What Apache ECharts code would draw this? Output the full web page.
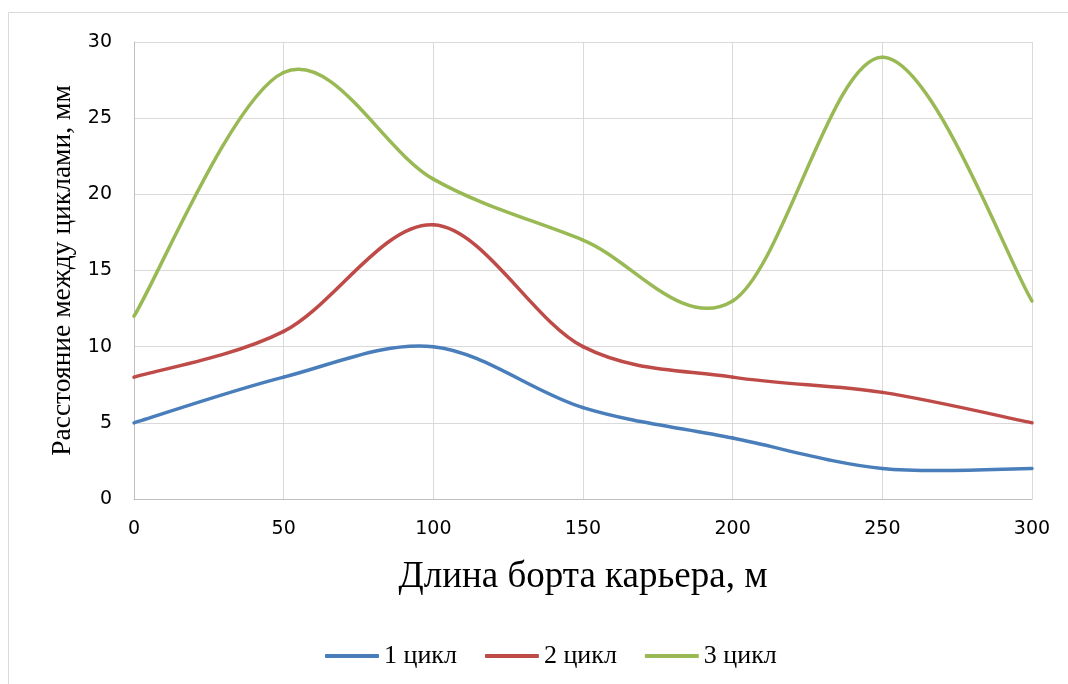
<!DOCTYPE html>
<html>
<head>
<meta charset="utf-8">
<script src="https://cdn.jsdelivr.net/npm/echarts@6/dist/echarts.min.js"></script>
<style>
html,body{margin:0;padding:0;background:#fff;}
#chart{width:1068px;height:684px;}
</style>
</head>
<body>
<div id="chart"></div>
<script>
// Длина борта карьера, м
const xValues = [0, 50, 100, 150, 200, 250, 300];
// Расстояние между циклами, мм
const cycle1 = [5, 8, 10, 6, 4, 2, 2];
const cycle2 = [8, 11, 18, 10, 8, 7, 5];
const cycle3 = [12, 28, 21, 17, 13, 29, 13];
const seriesNames = ['1 цикл', '2 цикл', '3 цикл'];
const seriesColors = ['#4a7ebb', '#be4b48', '#98b954'];

const pairs = vals => xValues.map((x, i) => [x, vals[i]]);
const serif = '"Liberation Serif", "Times New Roman", serif';
const sans = '"DejaVu Sans", sans-serif';

// Smoothed line: one cubic Bézier per segment, control points from the
// neighbouring points (Catmull-Rom style, tension 1/6), in pixel space.
function smoothSegment(vals, color) {
  return function (params, api) {
    const i = params.dataIndex;
    const n = vals.length;
    if (i >= n - 1) return null;
    const pt = k => api.coord([xValues[k], vals[k]]);
    const p0 = pt(Math.max(i - 1, 0));
    const p1 = pt(i);
    const p2 = pt(i + 1);
    const p3 = pt(Math.min(i + 2, n - 1));
    return {
      type: 'bezierCurve',
      shape: {
        x1: p1[0], y1: p1[1],
        x2: p2[0], y2: p2[1],
        cpx1: p1[0] + (p2[0] - p0[0]) / 6,
        cpy1: p1[1] + (p2[1] - p0[1]) / 6,
        cpx2: p2[0] - (p3[0] - p1[0]) / 6,
        cpy2: p2[1] - (p3[1] - p1[1]) / 6
      },
      style: { stroke: color, lineWidth: 3.5, fill: null, lineCap: 'round' },
      silent: true
    };
  };
}

const chart = echarts.init(document.getElementById('chart'));
chart.setOption({
  animation: false,
  backgroundColor: '#fff',
  graphic: [{
    type: 'rect',
    shape: { x: 8.5, y: 12.5, width: 1100, height: 700 },
    style: { fill: 'none', stroke: '#d9d9d9', lineWidth: 1 },
    silent: true
  }],
  grid: { left: 134, right: 36, top: 42, bottom: 185 },
  xAxis: {
    type: 'value', min: 0, max: 300, interval: 50,
    name: 'Длина борта карьера, м',
    nameLocation: 'middle', nameGap: 60,
    nameTextStyle: { fontFamily: serif, fontSize: 37, color: '#000' },
    axisLine: { show: true, lineStyle: { color: '#bfbfbf', width: 1 } },
    axisTick: { show: false },
    axisLabel: { fontFamily: sans, fontSize: 19, color: '#000', margin: 21 },
    splitLine: { show: true, lineStyle: { color: '#d9d9d9', width: 1 } }
  },
  yAxis: {
    type: 'value', min: 0, max: 30, interval: 5,
    name: 'Расстояние между циклами, мм',
    nameLocation: 'middle', nameGap: 56,
    nameTextStyle: { fontFamily: serif, fontSize: 27.5, color: '#000' },
    axisLine: { show: true, lineStyle: { color: '#bfbfbf', width: 1 } },
    axisTick: { show: false },
    axisLabel: { fontFamily: sans, fontSize: 19, color: '#000', margin: 22 },
    splitLine: { show: true, lineStyle: { color: '#d9d9d9', width: 1 } }
  },
  legend: {
    bottom: 10, left: 320,
    itemWidth: 54, itemHeight: 4, itemGap: 28,
    icon: 'roundRect',
    textStyle: { fontFamily: serif, fontSize: 26, color: '#000' },
    data: seriesNames
  },
  series: [cycle1, cycle2, cycle3].map((vals, i) => ({
    name: seriesNames[i],
    type: 'custom',
    coordinateSystem: 'cartesian2d',
    data: pairs(vals),
    encode: { x: 0, y: 1 },
    renderItem: smoothSegment(vals, seriesColors[i]),
    itemStyle: { color: seriesColors[i] }
  }))
});
</script>
</body>
</html>
